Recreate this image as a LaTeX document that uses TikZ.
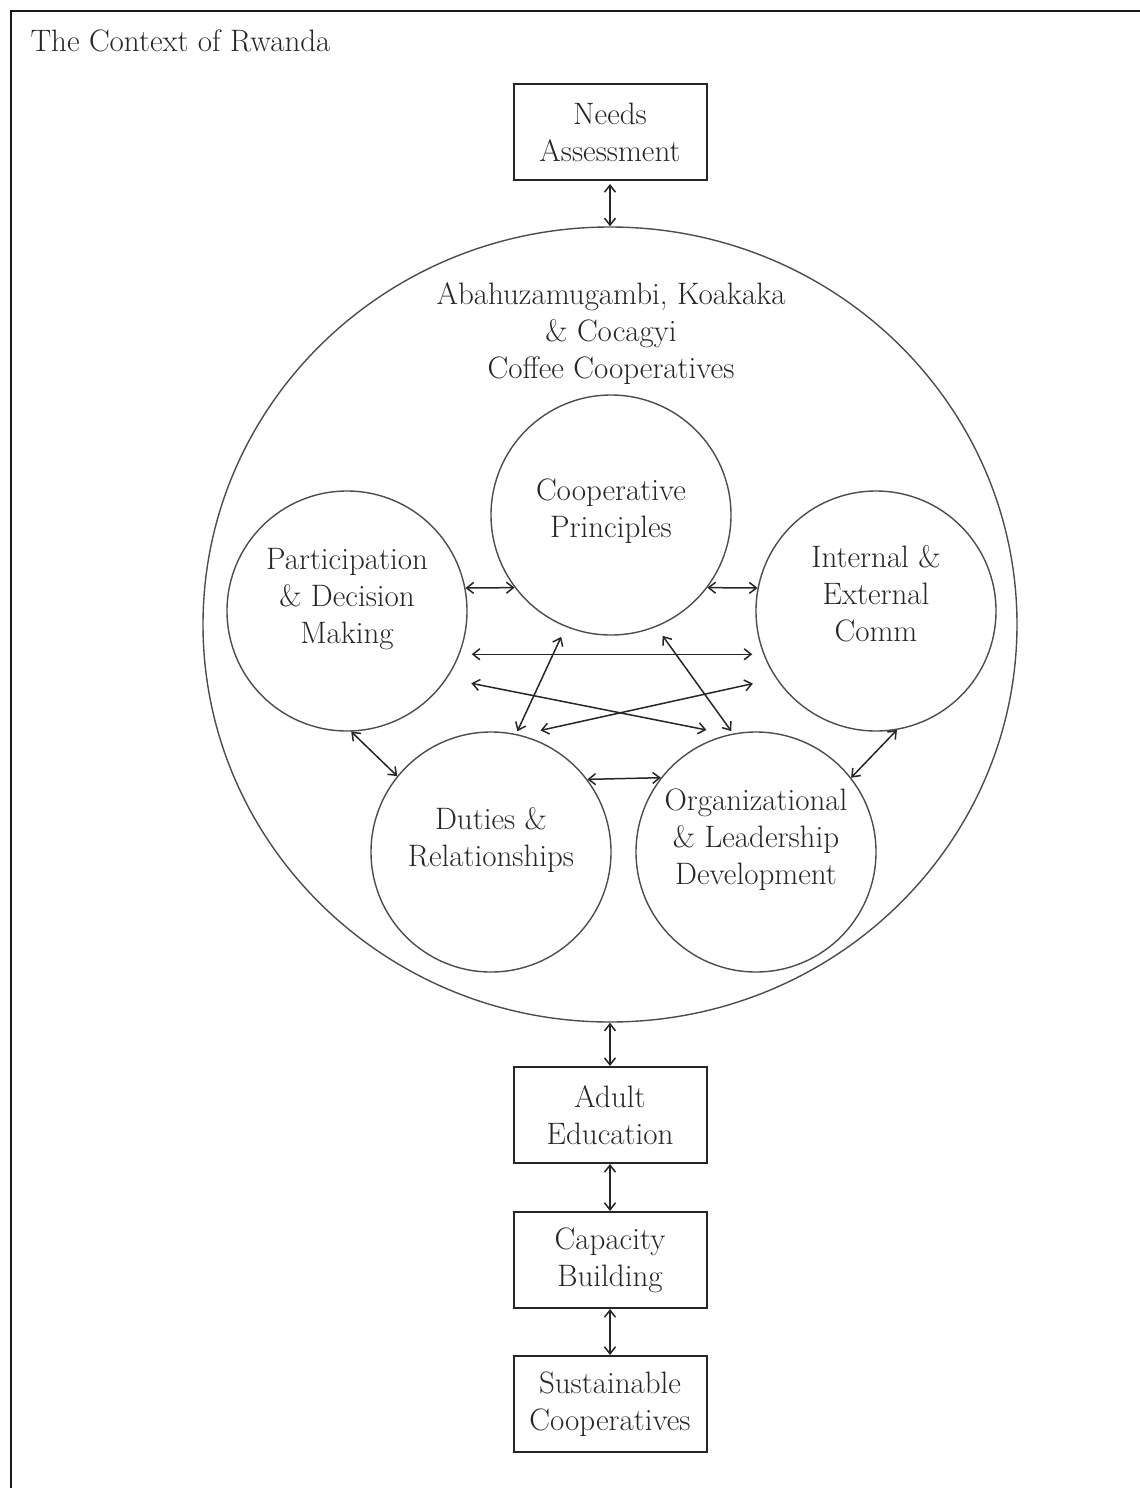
\documentclass[tikz,border=0pt]{standalone}
\usetikzlibrary{arrows.meta, positioning, shapes.geometric}

\begin{document}
\begin{tikzpicture}[
  x=1pt, y=-1pt,
  font=\fontsize{31}{37}\selectfont,
  every node/.style={text=black!85},
  box/.style={draw=black!85, line width=2pt, minimum width=193, minimum height=96, align=center, inner sep=0},
  topic/.style={circle, draw=black!70, line width=1.4pt, minimum size=240, inner sep=0, align=center, text depth=30pt},
  link/.style={{Straight Barb[length=7pt,width=11pt]}-{Straight Barb[length=7pt,width=11pt]}, line width=1.5pt, draw=black!85}
]
  \useasboundingbox (0,0) rectangle (1140,1488);
  \draw[line width=2.2pt, black!90] (11,1488) -- (11,11) -- (1140,11);
  \node[anchor=west] (title) at (27,41) {The Context of Rwanda};

  % boxes down the middle
  \node[box] (needs) at (610,132) {Needs\\Assessment};
  \node[box] (adult) at (610,1115) {Adult\\Education};
  \node[box] (capacity) at (610,1260) {Capacity\\Building};
  \node[box] (sustain) at (610,1404) {Sustainable\\Cooperatives};

  % the cooperatives
  \node[ellipse, draw=black!70, line width=1.4pt, minimum width=814, minimum height=795, inner sep=0] (coops) at (610,624.5) {};
  \node[align=center] (coopsname) at (611,334) {Abahuzamugambi, Koakaka\\\& Cocagyi\\Coffee Cooperatives};

  \node[topic, text depth=14pt] (principles) at (611,515) {Cooperative\\Principles};
  \node[topic] (participation) at (347,611) {Participation\\\& Decision\\Making};
  \node[topic, text depth=36pt] (comm) at (876,611) {Internal \&\\External\\Comm};
  \node[topic] (duties) at (491,852) {Duties \&\\Relationships};
  \node[topic] (leadership) at (756,852) {Organizational\\\& Leadership\\Development};

  % links
  \draw[link, shorten <=3pt] (needs) -- (coops.north);
  \draw[link] (coops.south) -- (adult);
  \draw[link] (adult) -- (capacity);
  \draw[link] (capacity) -- (sustain);

  \draw[link] (participation.11) -- (principles.217);
  \draw[link] (principles.-37) -- (comm.169);
  \draw[link, shorten <=12pt, shorten >=11pt] (participation.-21.3) -- (comm.201.5);
  \draw[link, shorten <=24.7pt, shorten >=22.8pt] (participation.-34.6) -- (leadership.103.8);
  \draw[link, shorten <=20.8pt, shorten >=23.6pt] (duties.76.2) -- (comm.214.5);
  \draw[link, shorten <=3pt, shorten >=11pt] (duties.78.3) -- (principles.248.5);
  \draw[link, shorten <=3pt, shorten >=11pt] (leadership.101.7) -- (principles.-68.1);
  \draw[link] (participation.-88) -- (duties.141);
  \draw[link] (duties.37) -- (leadership.142.5);
  \draw[link] (leadership.38) -- (comm.-80);
\end{tikzpicture}
\end{document}
